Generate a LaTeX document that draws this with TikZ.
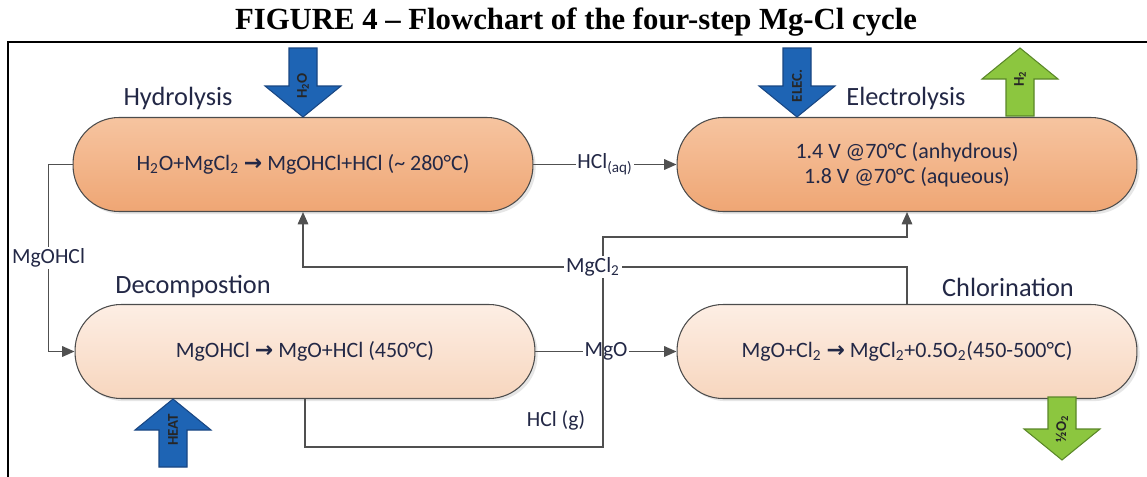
\documentclass[tikz,border=0pt]{standalone}
\usepackage{fontspec}
\setmainfont{Carlito}
\newfontfamily\titlefont{Liberation Serif}
\newfontfamily\symfont{DejaVu Sans}
\usepackage{xcolor}
\usepackage{tikz}
\usetikzlibrary{positioning,arrows.meta,shadows,calc}

\definecolor{ink}{RGB}{35,40,70}
\definecolor{wire}{RGB}{80,80,80}
\definecolor{hotTop}{RGB}{246,196,160}
\definecolor{hotBot}{RGB}{239,166,116}
\definecolor{warmTop}{RGB}{253,238,228}
\definecolor{warmBot}{RGB}{247,214,190}
\definecolor{feedBlue}{RGB}{30,100,180}
\definecolor{feedBlueLine}{RGB}{25,70,130}
\definecolor{outGreen}{RGB}{140,198,63}
\definecolor{outGreenLine}{RGB}{90,135,40}

\newcommand{\rarr}{{\symfont\bfseries →}}

% big block arrow: tip, direction (1 down / -1 up), shaft length, style, text
\newcommand{\fatarrow}[5]{%
  \begin{scope}[shift={#1}, yscale=#2]
    \draw[#4] (0,0) -- (38,-31) -- (14,-31) -- (14,-31-#3) -- (-14,-31-#3)
      -- (-14,-31) -- (-38,-31) -- cycle;
  \end{scope}
  \node[arrowtxt] at ($#1+(0,-31*#2)$) {#5};}

\begin{document}
\begin{tikzpicture}[
    x=0.02cm, y=-0.02cm,
    >={Triangle[length=7pt,width=6pt]},
    stage/.style={rectangle, draw=black!70, line width=0.6pt, rounded corners=0.92cm,
        minimum width=9.2cm, minimum height=1.88cm, text=ink,
        font=\fontsize{12.5}{14}\selectfont, align=center,
        drop shadow={opacity=0.2, shadow xshift=1.5pt, shadow yshift=-1.5pt}},
    hot/.style={stage, top color=hotTop, bottom color=hotBot},
    warm/.style={stage, top color=warmTop, bottom color=warmBot},
    heading/.style={text=ink, font=\fontsize{15}{18}\selectfont},
    flow/.style={draw=wire, line width=0.8pt},
    tag/.style={fill=white, text=ink, inner sep=1pt, font=\fontsize{12.3}{14}\selectfont},
    arrowtxt/.style={rotate=90, font=\fontsize{8.5}{9}\selectfont\bfseries, text=black!85},
    feed/.style={fill=feedBlue, draw=feedBlueLine, line width=0.6pt},
    vent/.style={fill=outGreen, draw=outGreenLine, line width=0.6pt}
]
\useasboundingbox (0,0) rectangle (1147,477);

% title and frame
\node[font=\titlefont\bfseries\fontsize{17.5}{20}\selectfont] (title) at (576,22)
    {FIGURE 4 – Flowchart of the four-step Mg-Cl cycle};
\draw[line width=1.1pt] (8,477) -- (8,42) -- (1147,42);

% the four stages
\node[hot] (hyd) at (303,164.5)
    {H\textsubscript{2}O+MgCl\textsubscript{2} \rarr{} MgOHCl+HCl (\textasciitilde{} 280°C)};
\node[hot] (elec) at (907,164.5)
    {1.4 V @70°C (anhydrous)\\1.8 V @70°C (aqueous)};
\node[warm] (dec) at (305,351.5) {MgOHCl \rarr{} MgO+HCl (450°C)};
\node[warm] (chl) at (907,351.5)
    {MgO+Cl\textsubscript{2} \rarr{} MgCl\textsubscript{2}+0.5O\textsubscript{2}(450-500°C)};

\node[heading] (hydlab) at (178,98) {Hydrolysis};
\node[heading] (eleclab) at (906,98) {Electrolysis};
\node[heading] (declab) at (193,287) {Decompostion};
\node[heading] (chllab) at (1008,287) {Chlorination};

% streams between stages
\draw[flow,->] (hyd.east) -- node[tag]{HCl\textsubscript{(aq)}} (elec.west);
\draw[flow,->] (hyd.west) -- ++(-24,0) |- node[tag,pos=0.25]{MgOHCl} (dec.west);
\draw[flow,->] (dec.east) -- node[tag]{MgO} (chl.west);

\coordinate (hclbot) at (603,447);
\coordinate (hcltop) at (603,237);
\draw[flow,->] (dec.south) |- (hclbot) -- (hcltop) -| (elec.south);
\node[text=ink, font=\fontsize{12.3}{14}\selectfont] (hcllab) at (556,420) {HCl (g)};

\coordinate (clturn) at (907,267);
\coordinate (clleft) at (303,267);
\draw[flow,->] (chl.north) -- (clturn)
    -- node[tag,pos=0.52]{MgCl\textsubscript{2}} (clleft) -- (hyd.south);

% inputs and outputs
\fatarrow{(303,117)}{1}{38}{feed}{H\textsubscript{2}O}
\fatarrow{(797,117)}{1}{38}{feed}{ELEC.}
\fatarrow{(1020,48)}{-1}{37}{vent}{H\textsubscript{2}}
\fatarrow{(173,399)}{-1}{37}{feed}{HEAT}
\fatarrow{(1062,460)}{1}{32}{vent}{½O\textsubscript{2}}
\end{tikzpicture}
\end{document}
